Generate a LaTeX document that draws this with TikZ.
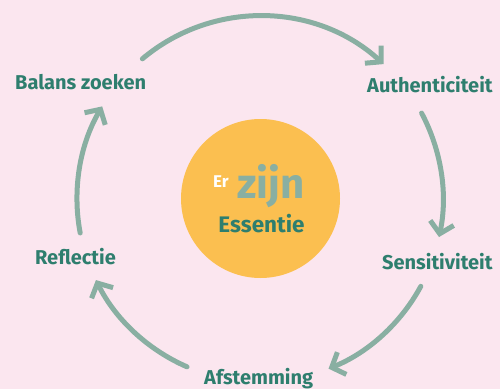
\documentclass[tikz,border=0pt]{standalone}
\usepackage{fontspec}
\setmainfont{Fira Sans}
\usetikzlibrary{arrows.meta}
\definecolor{bgpink}{HTML}{FBE6EF}
\definecolor{sunorange}{HTML}{FBBF50}
\definecolor{tealtext}{HTML}{2E7E6E}
\definecolor{sage}{HTML}{89AFA2}
\tikzset{
  lbl/.style={font=\bfseries\fontsize{20}{24}\selectfont, text=tealtext, inner sep=0pt, anchor=base west},
  cyclearrow/.style={draw=sage, line width=5pt, line cap=round,
    -{Straight Barb[length=11pt,width=24pt,line cap=butt]}},
}
\begin{document}
\begin{tikzpicture}[x=1pt,y=1pt]
\fill[bgpink] (0,0) rectangle (500,389);
\useasboundingbox (0,0) rectangle (500,389);
\coordinate (c) at (260,190);
\node[circle, fill=sunorange, minimum size=159pt, inner sep=0pt] (core) at (260.5,190.5) {};
\node[font=\bfseries\fontsize{17}{20}\selectfont, text=white, inner sep=0pt, anchor=base west] (er) at (213,202) {Er};
\node[font=\bfseries\fontsize{42}{46}\selectfont, text=sage, inner sep=0pt, anchor=base west] (zijn) at (237,191) {zijn};
\node[font=\bfseries\fontsize{22.5}{26}\selectfont, text=tealtext, inner sep=0pt, anchor=base] (ess) at (261.5,157) {Essentie};

\node[lbl] (bal) at (15,299) {Balans zoeken};
\node[lbl] (auth) at (367,297) {Authenticiteit};
\node[lbl] (sens) at (382,120) {Sensitiviteit};
\node[lbl] (afst) at (204,5) {Afstemming};
\node[lbl] (refl) at (35,125) {Reflectie};

\draw[cyclearrow] ([shift={(130:183)}]c) arc[start angle=130, end angle=47.5, radius=183];
\draw[cyclearrow] ([shift={(28:183)}]c) arc[start angle=28, end angle=-12, radius=183];
\draw[cyclearrow] ([shift={(-28.5:183)}]c) arc[start angle=-28.5, end angle=-68, radius=183];
\draw[cyclearrow] ([shift={(246.5:183)}]c) arc[start angle=246.5, end angle=206.3, radius=183];
\draw[cyclearrow] ([shift={(190.7:183)}]c) arc[start angle=190.7, end angle=149.6, radius=183];
\end{tikzpicture}
\end{document}
